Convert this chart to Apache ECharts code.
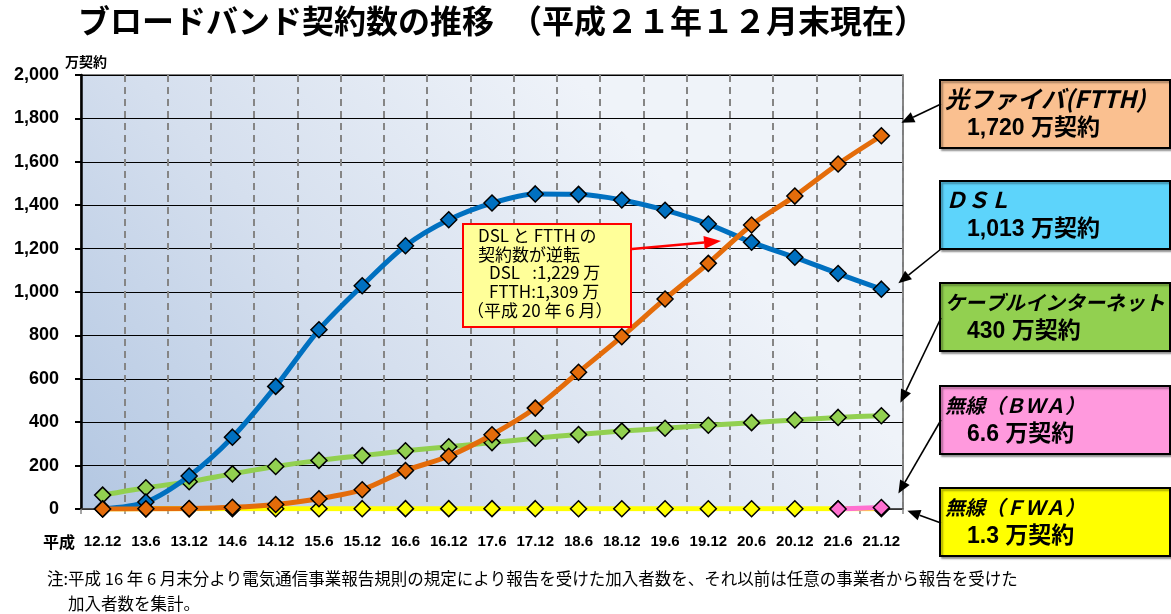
<!DOCTYPE html>
<html>
<head>
<meta charset="utf-8">
<script src="https://cdn.jsdelivr.net/npm/echarts@6/dist/echarts.min.js"></script>
<style>
  html, body { margin: 0; padding: 0; background: #ffffff; }
  #chart { width: 1171px; height: 614px; }
</style>
</head>
<body>
<div id="chart"></div>
<script>
// 期末（平成 年.月）
const periods = ['12.12', '13.6', '13.12', '14.6', '14.12', '15.6', '15.12', '16.6', '16.12', '17.6',
                 '17.12', '18.6', '18.12', '19.6', '19.12', '20.6', '20.12', '21.6', '21.12'];

// 契約数（万契約）
const ftth  = [0.2, 0.9, 2.5, 8, 21, 47, 89, 177, 243, 342, 465, 630, 794, 968, 1132, 1309, 1442, 1590, 1720];
const dsl   = [1, 32, 152, 331, 565, 826, 1029, 1213, 1333, 1410, 1452, 1450, 1424, 1377, 1313, 1229, 1160, 1085, 1013];
const catv  = [64, 98, 126, 162, 196, 224, 246, 268, 287, 306, 326, 343, 359, 372, 386, 398, 410, 422, 430];
const fwa   = [0.5, 0.6, 0.8, 1.0, 1.2, 1.4, 1.5, 1.6, 1.7, 1.6, 1.5, 1.4, 1.4, 1.4, 1.4, 1.4, 1.3, 1.3, 1.3];
const bwa   = [null, null, null, null, null, null, null, null, null, null, null, null, null, null, null, null, null, 0.3, 6.6];

const yTicks = { min: 0, max: 2000, step: 200 };

const seriesNames = ['光ファイバ(FTTH)', 'ＤＳＬ', 'ケーブルインターネット', '無線（ＢＷＡ）', '無線（ＦＷＡ）'];
const seriesData  = [ftth, dsl, catv, bwa, fwa];

const titleText = 'ブロードバンド契約数の推移　（平成２１年１２月末現在）';
const unitText = '万契約';
const eraText = '平成';
const noteLines = [
  '注:平成 16 年 6 月末分より電気通信事業報告規則の規定により報告を受けた加入者数を、それ以前は任意の事業者から報告を受けた',
  '加入者数を集計。'
];

const JP = '"Noto Sans CJK JP", sans-serif';
const NUM = '"Liberation Sans", Arial, "Noto Sans CJK JP", sans-serif';

const fmt = v => v.toLocaleString('en-US');

// 系列ごとの描画スタイル（色、重なり順）
const styles = [
  { color: '#e46c0a', z: 6 },   // FTTH
  { color: '#0070c0', z: 5 },   // DSL
  { color: '#92d050', z: 4 },   // ケーブル
  { color: '#ff70d0', z: 3 },   // BWA
  { color: '#ffff00', z: 2 }    // FWA
];

const chart = echarts.init(document.getElementById('chart'), null, { renderer: 'canvas' });

function lineSeries(i) {
  return {
    name: seriesNames[i],
    type: 'line',
    data: seriesData[i],
    z: styles[i].z,
    smooth: 0.3,
    symbol: 'diamond',
    symbolSize: 16,
    showAllSymbol: true,
    lineStyle: { color: styles[i].color, width: 5 },
    itemStyle: { color: styles[i].color, borderColor: '#000', borderWidth: 1.5 },
    emphasis: { disabled: true },
    animation: false
  };
}

chart.setOption({
  animation: false,
  grid: {
    left: 81, right: 268, top: 75, bottom: 105,
    containLabel: false,
    outerBoundsMode: 'none',
    show: true,
    borderColor: '#555',
    borderWidth: 1.5,
    backgroundColor: new echarts.graphic.LinearGradient(0, 1, 0.6, 0, [
      { offset: 0, color: '#b3c7e2' },
      { offset: 0.5, color: '#d5dfee' },
      { offset: 1, color: '#eff3f9' }
    ])
  },
  xAxis: {
    type: 'category',
    data: periods,
    boundaryGap: true,
    axisLine: { show: true, lineStyle: { color: '#444', width: 1.5 } },
    axisTick: { show: true, length: 5, alignWithLabel: false, lineStyle: { color: '#888', width: 1.5 } },
    axisLabel: {
      interval: 0, margin: 25, color: '#000',
      fontSize: 15, fontWeight: 'bold', fontFamily: NUM
    },
    splitLine: { show: true, lineStyle: { color: '#858585', width: 2, type: [7, 5] } }
  },
  yAxis: {
    type: 'value',
    min: yTicks.min, max: yTicks.max, interval: yTicks.step,
    axisLine: { show: true, lineStyle: { color: '#000', width: 2.5 } },
    axisTick: { show: true, length: 6, lineStyle: { color: '#000', width: 2 } },
    axisLabel: {
      margin: 22, color: '#000', fontSize: 18, fontWeight: 'bold', fontFamily: NUM,
      formatter: v => fmt(v)
    },
    splitLine: { show: true, lineStyle: { color: '#000', width: 1.2 } }
  },
  series: [4, 3, 2, 1, 0].map(lineSeries)
});

// 矢印（線＋三角形）
function arrow(x1, y1, x2, y2, color, w, hl, hw) {
  const a = Math.atan2(y2 - y1, x2 - x1);
  const bx = x2 - hl * Math.cos(a), by = y2 - hl * Math.sin(a);
  const px = -Math.sin(a) * hw / 2, py = Math.cos(a) * hw / 2;
  return [
    { type: 'line', z: 100, shape: { x1, y1, x2: bx, y2: by }, style: { stroke: color, lineWidth: w } },
    { type: 'polygon', z: 100, shape: { points: [[x2, y2], [bx + px, by + py], [bx - px, by - py]] }, style: { fill: color } }
  ];
}

function text(x, y, str, opts) {
  return {
    type: 'text', z: 101, x, y,
    style: Object.assign({
      text: str, fill: '#000',
      textAlign: 'left', textVerticalAlign: 'middle',
      align: 'left', verticalAlign: 'middle'
    }, opts)
  };
}

const g = [];

// タイトル
g.push(text(78, 21, titleText, { fontSize: 32, fontWeight: 'bold', fontFamily: JP }));
// 単位・元号
g.push(text(65, 62, unitText, { fontSize: 14, fontWeight: 'bold', fontFamily: JP }));
g.push(text(43, 542, eraText, { fontSize: 16, fontWeight: 'bold', fontFamily: JP }));
// 注記
g.push(text(47, 579, noteLines[0], { fontSize: 16.5, fontFamily: JP }));
g.push(text(68, 604, noteLines[1], { fontSize: 16.5, fontFamily: JP }));

// 右側の凡例ボックス
const last = periods.length - 1;
const boxX = 940, boxW = 230, boxH = 68;
const boxTops = [80, 181, 283, 386, 488];
const boxFills = ['#fac090', '#5dd4fb', '#92d050', '#ff99dd', '#ffff00'];
const nameSizes = [24, 22, 20, 20, 20];
const tails = [[941, 104], [941, 249], [941, 318], [941, 420], [941, 523]];
const tipOffsets = [[20, -13], [17, -6], [19, -13], [17, -14], [26, 2]];
const totalDigits = [0, 0, 0, 1, 1];

seriesNames.forEach((name, i) => {
  const top = boxTops[i];
  g.push({
    type: 'rect', z: 99,
    shape: { x: boxX, y: top, width: boxW, height: boxH },
    style: {
      fill: boxFills[i], stroke: '#000', lineWidth: 2,
      shadowBlur: 2, shadowOffsetX: 2, shadowOffsetY: 2, shadowColor: 'rgba(0,0,0,0.35)'
    }
  });
  g.push(text(boxX + 5, top + 19, name, {
    fontSize: nameSizes[i], fontWeight: 'bold', fontStyle: 'italic', fontFamily: JP
  }));
  const v = seriesData[i][last];
  const total = (totalDigits[i] ? v.toFixed(1) : fmt(v)) + ' 万契約';
  g.push(text(boxX + 27, top + 49, total, { fontSize: 23, fontWeight: 'bold', fontFamily: NUM }));

  const p = chart.convertToPixel({ gridIndex: 0 }, [last, v]);
  const tip = [p[0] + tipOffsets[i][0], p[1] + tipOffsets[i][1]];
  g.push(...arrow(tails[i][0], tails[i][1], tip[0], tip[1], '#000', 1.6, 13, 11));
});

// 逆転の注記
const cross = 15; // 平成20年6月
const noteBox = { x: 463, y: 224, w: 168, h: 103 };
g.push({
  type: 'rect', z: 99,
  shape: { x: noteBox.x, y: noteBox.y, width: noteBox.w, height: noteBox.h },
  style: { fill: '#ffff99', stroke: '#ff0000', lineWidth: 2 }
});
const crossLines = [
  ['DSL と FTTH の', 478, 236],
  ['契約数が逆転', 478, 255],
  ['DSL\u2002 :' + fmt(dsl[cross]) + ' 万', 489, 273],
  ['FTTH:' + fmt(ftth[cross]) + ' 万', 489, 292],
  ['（平成 20 年 6 月）', 467, 311]
];
crossLines.forEach(([s, x, y]) => g.push(text(x, y, s, { fontSize: 17, fontFamily: JP })));
g.push(...arrow(632, 249, 721, 241, '#ff0000', 2.5, 17, 13));

chart.setOption({ graphic: g });
</script>
</body>
</html>
